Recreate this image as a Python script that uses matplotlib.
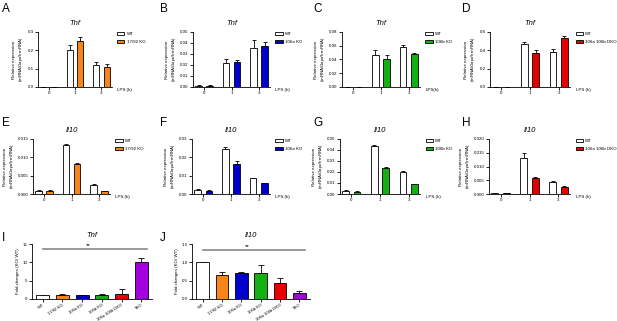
#!/usr/bin/env python

import sys
import numpy as np
import matplotlib
matplotlib.use('Agg')
import matplotlib.pyplot as plt

"""
Tnf / Il10 expression in WT and miRNA knockout macrophages after LPS
"""

lps_hours = ['0', '1', '3']

# Tnf panels (A-D): WT and KO means with SEM
tnf_1792_wt = [0.0, 0.20, 0.12]
tnf_1792_wt_err = [0.0, 0.03, 0.018]
tnf_1792_ko = [0.0, 0.25, 0.11]
tnf_1792_ko_err = [0.0, 0.025, 0.015]

tnf_106a_wt = [0.0012, 0.022, 0.035]
tnf_106a_wt_err = [0.0005, 0.0035, 0.0075]
tnf_106a_ko = [0.0012, 0.023, 0.037]
tnf_106a_ko_err = [0.0003, 0.0012, 0.004]

tnf_106b_wt = [0.0, 0.046, 0.058]
tnf_106b_wt_err = [0.0, 0.008, 0.003]
tnf_106b_ko = [0.0, 0.040, 0.048]
tnf_106b_ko_err = [0.0, 0.006, 0.0015]

tnf_dko_wt = [0.0, 0.47, 0.38]
tnf_dko_wt_err = [0.0, 0.02, 0.035]
tnf_dko_ko = [0.0, 0.375, 0.53]
tnf_dko_ko_err = [0.0, 0.03, 0.03]

# Il10 panels (E-H)
il10_1792_wt = [0.0008, 0.0133, 0.0024]
il10_1792_wt_err = [0.0002, 0.0003, 0.0002]
il10_1792_ko = [0.0008, 0.0082, 0.0008]
il10_1792_ko_err = [0.0004, 0.0003, 0.0001]

il10_106a_wt = [0.0022, 0.0245, 0.0088]
il10_106a_wt_err = [0.0003, 0.0012, 0.0002]
il10_106a_ko = [0.0017, 0.0165, 0.0058]
il10_106a_ko_err = [0.0003, 0.0015, 0.0002]

il10_106b_wt = [0.003, 0.044, 0.020]
il10_106b_wt_err = [0.0003, 0.001, 0.0005]
il10_106b_ko = [0.002, 0.024, 0.009]
il10_106b_ko_err = [0.0003, 0.001, 0.0005]

il10_dko_wt = [0.0003, 0.013, 0.0044]
il10_dko_wt_err = [0.0001, 0.002, 0.0004]
il10_dko_ko = [0.0002, 0.006, 0.0027]
il10_dko_ko_err = [0.0001, 0.0003, 0.0002]

# fold change panels (I, J)
genotypes = ['WT', '17/92 KO', '106a KO', '106b KO', '106a 106b DKO', 'TKO']
tnf_fold = [1.0, 1.2, 1.0, 1.0, 1.5, 10.0]
tnf_fold_err = [0.0, 0.2, 0.1, 0.4, 1.2, 1.3]
il10_fold = [1.0, 0.66, 0.71, 0.70, 0.45, 0.16]
il10_fold_err = [0.0, 0.07, 0.02, 0.22, 0.11, 0.07]

ORANGE = '#f7851a'
BLUE = '#0000cc'
GREEN = '#12b012'
RED = '#e60000'
PURPLE = '#a300e0'
fold_colors = ['white', ORANGE, BLUE, GREEN, RED, PURPLE]

FS = 3.2


def style_axes(ax):
	for s in ['top', 'right']:
		ax.spines[s].set_visible(False)
	for s in ['left', 'bottom']:
		ax.spines[s].set_linewidth(0.6)
	ax.tick_params(labelsize=FS, length=2, width=0.6, pad=1.2)


def group_panel(fig, rect, gene, wt, wt_err, ko, ko_err, ko_label, color, ymax, yticks, fmt, xlab='LPS (h)'):
	ax = fig.add_axes(rect)
	style_axes(ax)
	x = np.arange(len(lps_hours))
	w = 0.23
	off = 0.2
	zero = np.zeros(len(x))
	ax.bar(x - off, wt, w, color='white', edgecolor='black', linewidth=0.6, label='WT', zorder=2)
	ax.bar(x + off, ko, w, color=color, edgecolor='black', linewidth=0.6, label=ko_label, zorder=2)
	ax.errorbar(x - off, wt, yerr=[zero, wt_err], fmt='none', ecolor='black', elinewidth=0.6, capsize=1.5, capthick=0.6, zorder=1)
	ax.errorbar(x + off, ko, yerr=[zero, ko_err], fmt='none', ecolor='black', elinewidth=0.6, capsize=1.5, capthick=0.6, zorder=1)
	ax.set_xlim(-0.4, 2.4)
	ax.set_ylim(0, ymax)
	ax.set_yticks(yticks)
	ax.set_yticklabels([fmt % v for v in yticks])
	ax.set_xticks(x)
	ax.set_xticklabels(lps_hours)
	ax.set_title(gene, fontsize=5.5, style='italic', pad=5)
	ax.set_ylabel('Relative expression\n(mRNA/$\\it{Gapdh}$ mRNA)', fontsize=FS, labelpad=1.5)
	ax.text(1.07, -0.05, xlab, transform=ax.transAxes, fontsize=FS, ha='left', va='center')
	ax.legend(loc='upper left', bbox_to_anchor=(1.07, 1.0), frameon=False, fontsize=FS,
		borderaxespad=0, borderpad=0, handlelength=1.6, handleheight=0.7,
		handletextpad=0.5, labelspacing=0.9)
	return ax


def fold_panel(fig, rect, gene, vals, errs, ymax, yticks, fmt, line_y):
	ax = fig.add_axes(rect)
	style_axes(ax)
	x = np.arange(len(genotypes))
	zero = np.zeros(len(x))
	ax.bar(x, vals, 0.65, color=fold_colors, edgecolor='black', linewidth=0.6, zorder=2)
	ax.errorbar(x, vals, yerr=[zero, errs], fmt='none', ecolor='black', elinewidth=0.6, capsize=2, capthick=0.6, zorder=1)
	ax.set_xlim(-0.55, 5.55)
	ax.set_ylim(0, ymax)
	ax.set_yticks(yticks)
	ax.set_yticklabels([fmt % v for v in yticks])
	ax.set_xticks(x)
	ax.set_xticklabels(genotypes, rotation=32, ha='right', rotation_mode='anchor', fontsize=3.0)
	ax.tick_params(axis='x', pad=0.8)
	ax.set_title(gene, fontsize=5.5, style='italic', pad=5)
	ax.set_ylabel('Fold changes (KO/ WT)', fontsize=FS, labelpad=2)
	ax.plot([0, 5.3], [line_y, line_y], color='#888888', linewidth=1.2, clip_on=False)
	ax.text(2.3, line_y * 1.015, '**', fontsize=4.5, ha='center', va='bottom')
	return ax


def main():
	plt.rcParams['font.family'] = ['Liberation Sans', 'DejaVu Sans']
	plt.rcParams['mathtext.fontset'] = 'custom'
	plt.rcParams['mathtext.rm'] = 'Liberation Sans'
	plt.rcParams['mathtext.it'] = 'Liberation Sans:italic'

	fig = plt.figure(figsize=(6.17, 3.21), dpi=100)
	W, H = 617.0, 321.0

	def rect(l, r, t, b):
		return [l / W, 1 - b / H, (r - l) / W, (b - t) / H]

	group_panel(fig, rect(38, 112, 32, 87), 'Tnf', tnf_1792_wt, tnf_1792_wt_err, tnf_1792_ko, tnf_1792_ko_err,
		'17/92 KO', ORANGE, 0.3, [0.0, 0.1, 0.2, 0.3], '%.1f')
	group_panel(fig, rect(193, 270, 32, 87), 'Tnf', tnf_106a_wt, tnf_106a_wt_err, tnf_106a_ko, tnf_106a_ko_err,
		'106a KO', BLUE, 0.05, [0.0, 0.01, 0.02, 0.03, 0.04, 0.05], '%.2f')
	group_panel(fig, rect(342, 420, 32, 87), 'Tnf', tnf_106b_wt, tnf_106b_wt_err, tnf_106b_ko, tnf_106b_ko_err,
		'106b KO', GREEN, 0.08, [0.0, 0.02, 0.04, 0.06, 0.08], '%.2f', xlab='LPS(h)')
	group_panel(fig, rect(490, 570, 32, 87), 'Tnf', tnf_dko_wt, tnf_dko_wt_err, tnf_dko_ko, tnf_dko_ko_err,
		'106a 106b DKO', RED, 0.6, [0.0, 0.2, 0.4, 0.6], '%.1f')

	group_panel(fig, rect(33, 110, 139, 194), 'Il10', il10_1792_wt, il10_1792_wt_err, il10_1792_ko, il10_1792_ko_err,
		'17/92 KO', ORANGE, 0.015, [0.0, 0.005, 0.010, 0.015], '%.3f')
	group_panel(fig, rect(192, 270, 139, 194), 'Il10', il10_106a_wt, il10_106a_wt_err, il10_106a_ko, il10_106a_ko_err,
		'106a KO', BLUE, 0.03, [0.0, 0.01, 0.02, 0.03], '%.2f')
	group_panel(fig, rect(340, 420, 139, 194), 'Il10', il10_106b_wt, il10_106b_wt_err, il10_106b_ko, il10_106b_ko_err,
		'106b KO', GREEN, 0.05, [0.0, 0.01, 0.02, 0.03, 0.04, 0.05], '%.2f')
	group_panel(fig, rect(489, 570, 139, 194), 'Il10', il10_dko_wt, il10_dko_wt_err, il10_dko_ko, il10_dko_ko_err,
		'106a 106b DKO', RED, 0.020, [0.0, 0.005, 0.010, 0.015, 0.020], '%.3f')

	fold_panel(fig, rect(32, 152, 244, 299), 'Tnf', tnf_fold, tnf_fold_err, 15, [0, 5, 10, 15], '%d', 13.6)
	fold_panel(fig, rect(192, 310, 244, 299), 'Il10', il10_fold, il10_fold_err, 1.5, [0.0, 0.5, 1.0, 1.5], '%.1f', 1.34)

	letters = [('A', 2, 3), ('B', 160, 3), ('C', 313, 3), ('D', 462, 3),
		('E', 2, 117), ('F', 160, 117), ('G', 313, 117), ('H', 462, 117),
		('I', 2, 232), ('J', 160, 232)]
	for s, x, y in letters:
		fig.text(x / W, 1 - y / H, s, fontsize=8.5, ha='left', va='top')

	fig.savefig('out.png', dpi=100)
	return 0

if __name__ == "__main__":
	sys.exit(main())
